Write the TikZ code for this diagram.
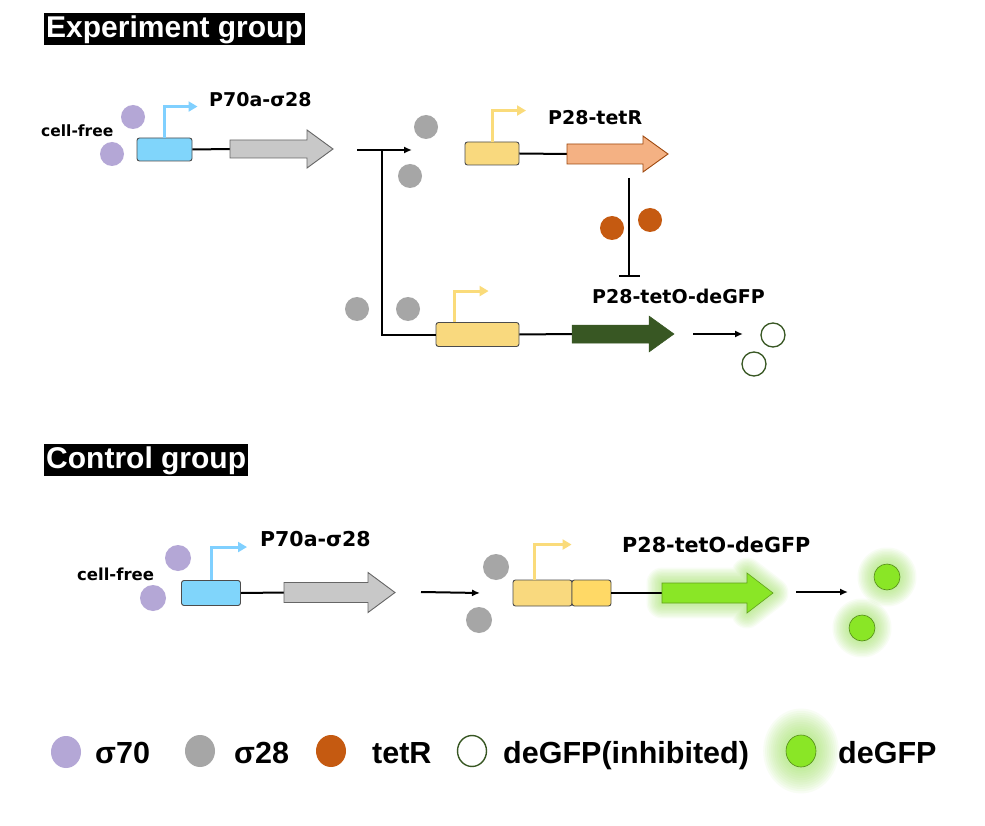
\documentclass[tikz,border=0pt]{standalone}
\usepackage{fontspec}
\setmainfont{Liberation Sans}
\newfontfamily\labelfont{DejaVu Sans}
\usetikzlibrary{arrows.meta,shapes.geometric}

\definecolor{sigA}{HTML}{B4A7D6}
\definecolor{sigB}{HTML}{A6A6A6}
\definecolor{tetr}{HTML}{C55A11}
\definecolor{dkgreen}{HTML}{385723}
\definecolor{ltgreen}{HTML}{8AE626}
\definecolor{glowgreen}{HTML}{9BE35A}
\definecolor{proBlue}{HTML}{80D5FB}
\definecolor{proBlueArr}{HTML}{80D0FF}
\definecolor{proYel}{HTML}{F9D97E}
\definecolor{proYelB}{HTML}{FFD966}
\definecolor{proYelArr}{HTML}{FADB7A}
\definecolor{geneGray}{HTML}{C8C8C8}
\definecolor{geneOrange}{HTML}{F4B183}

% gene arrow: style, start coordinate, body length, head length, half body, half head
\newcommand\genearrow[6]{\draw[#1] (#2) -- ++(0,-#5) -- ++(#3,0) -- ++(0,{#5-#6}) -- ++(#4,#6) -- ++(-#4,#6) -- ++(0,{#5-#6}) -- ++(-#3,0) -- cycle;}

\tikzset{
  mol/.style={circle, inner sep=0, minimum size=24pt},
  molbig/.style={circle, inner sep=0, minimum size=26pt},
  probox/.style={draw=black!70, line width=0.9pt, rounded corners=2.5pt, inner sep=0},
  promo/.style={line width=3pt, draw=#1, -{Triangle[length=9pt,width=10pt,fill=#1]}},
  conn/.style={line width=2pt, -{Latex[length=8pt,width=7pt]}},
  wire/.style={line width=2pt},
  title/.style={fill=black, text=white, inner xsep=2pt, inner ysep=0,
    font=\fontsize{30}{30}\selectfont\bfseries, text height=23pt, text depth=6pt,
    minimum height=32pt, anchor=west},
  lbl/.style={inner sep=0, anchor=base west},
  leg/.style={inner sep=0, anchor=base west, font=\fontsize{30.5}{32}\selectfont\bfseries},
  legdot/.style={ellipse, inner sep=0},
  glowline/.style={draw=glowgreen, draw opacity=0.065, line join=round},
  glowfill/.style={fill=glowgreen, fill opacity=0.065},
}

\begin{document}
\begin{tikzpicture}[x=1pt, y=-1pt]
\useasboundingbox (0,0) rectangle (985,826);
\fill[white] (0,0) rectangle (985,826);

%% ---------- Experiment group ----------
\node[title] (t1) at (44,29) {Experiment group};

\node[lbl, font=\labelfont\fontsize{15.5}{16}\selectfont\bfseries] (cf1) at (41,137) {cell-free};
\node[mol, fill=sigA] (m1) at (133,117) {};
\node[mol, fill=sigA] (m2) at (112,154) {};

\node[probox, fill=proBlue, minimum width=55pt, minimum height=23pt] (pA) at (164.5,149.5) {};
\draw[promo=proBlueArr] (pA.north) |- ++(33,-31);
\node[lbl, font=\labelfont\fontsize{19}{20}\selectfont\bfseries] (lA) at (209,107) {P70a-σ28};
\coordinate (gA) at (230,149);
\draw[wire] (pA.east) -- (gA);
\genearrow{fill=geneGray, draw=black!60, line width=0.9pt}{gA}{77}{26}{9}{19}

% sigma28 released
\coordinate (j1) at (357,150);
\coordinate (j2) at (412,150);
\coordinate (jv) at (382,150);
\draw[conn] (j1) -- (j2);

\node[mol, fill=sigB] (s1) at (426,127) {};
\node[mol, fill=sigB] (s2) at (410,176) {};

\node[probox, fill=proYel, minimum width=54pt, minimum height=23pt] (pB) at (492,153.5) {};
\draw[promo=proYelArr] (pB.north) |- ++(34,-31);
\node[lbl, font=\labelfont\fontsize{19}{20}\selectfont\bfseries] (lB) at (548,125) {P28-tetR};
\coordinate (gB) at (567,154);
\draw[wire] (pB.east) -- (gB);
\genearrow{fill=geneOrange, draw=tetr!80!black, line width=0.9pt}{gB}{76}{25}{10}{18}

% repression by tetR
\coordinate (inh1) at (629,178);
\coordinate (inh2) at (629,277);
\draw[wire, -{Bar[width=21pt, line width=2pt]}] (inh1) -- (inh2);
\node[mol, fill=tetr] (r1) at (612,228) {};
\node[mol, fill=tetr] (r2) at (650,220) {};

% reporter
\node[mol, fill=sigB] (s3) at (357,309) {};
\node[mol, fill=sigB] (s4) at (408,309) {};
\node[probox, fill=proYel, minimum width=83pt, minimum height=24pt] (pC) at (477.5,334.5) {};
\draw[wire] (jv) |- (pC.west);
\draw[promo=proYelArr] ([xshift=19pt]pC.north west) |- ++(34,-31);
\node[lbl, font=\labelfont\fontsize{19}{20}\selectfont\bfseries] (lC) at (592,304) {P28-tetO-deGFP};
\coordinate (gC) at (572,334);
\draw[wire] (pC.east) -- (gC);
\genearrow{fill=dkgreen, draw=dkgreen, line width=0.5pt}{gC}{77}{25}{9}{18}

\coordinate (k1) at (693,334);
\coordinate (k2) at (743,334);
\draw[conn] (k1) -- (k2);
\node[mol, draw=dkgreen, line width=1.3pt, fill=white] (o1) at (773,335) {};
\node[mol, draw=dkgreen, line width=1.3pt, fill=white] (o2) at (754,364) {};

%% ---------- Control group ----------
\node[title] (t2) at (44,459.5) {Control group};

\node[lbl, font=\labelfont\fontsize{16.5}{17}\selectfont\bfseries] (cf2) at (77,580) {cell-free};
\node[molbig, fill=sigA] (m3) at (178,558) {};
\node[molbig, fill=sigA] (m4) at (153,598) {};

\node[probox, fill=proBlue, minimum width=59pt, minimum height=25pt] (pD) at (211,593) {};
\draw[promo=proBlueArr] (pD.north) |- ++(36,-33);
\node[lbl, font=\labelfont\fontsize{20.5}{21}\selectfont\bfseries] (lD) at (260,546) {P70a-σ28};
\coordinate (gD) at (284,592.5);
\draw[wire] (pD.east) -- (gD);
\genearrow{fill=geneGray, draw=black!60, line width=0.9pt}{gD}{84}{27}{10}{20}

\coordinate (c1) at (421,592);
\coordinate (c2) at (480,593);
\draw[conn] (c1) -- (c2);
\node[molbig, fill=sigB] (s5) at (496,567) {};
\node[molbig, fill=sigB] (s6) at (479,620) {};

\node[probox, fill=proYel, minimum width=59pt, minimum height=26pt] (pE) at (542.5,593) {};
\node[probox, fill=proYelB, minimum width=39pt, minimum height=26pt] (pF) at (591.5,593) {};
\draw[promo=proYelArr] ([xshift=22pt]pE.north west) |- ++(37,-35);
\node[lbl, font=\labelfont\fontsize{20.7}{21}\selectfont\bfseries] (lE) at (622,552) {P28-tetO-deGFP};
\coordinate (gE) at (662,593);
% soft halo round the expressed reporter
\foreach \i in {1,...,11} {\genearrow{glowline, line width=2.8*\i pt}{gE}{85}{26}{10}{20}}
\draw[wire] (pF.east) -- (gE);
\genearrow{fill=ltgreen, draw=ltgreen!70!black, line width=0.6pt}{gE}{85}{26}{10}{20}

\coordinate (c3) at (796,592);
\coordinate (c4) at (848,592);
\draw[conn] (c3) -- (c4);
\foreach \p in {(887,577),(862,628)} {
  \foreach \i in {1,...,11} {\fill[glowfill] \p circle[radius=13+1.5*\i];}
}
\node[molbig, fill=ltgreen, draw=ltgreen!60!black, line width=0.6pt] (g1) at (887,577) {};
\node[molbig, fill=ltgreen, draw=ltgreen!60!black, line width=0.6pt] (g2) at (862,628) {};

%% ---------- Legend ----------
\node[legdot, fill=sigA, minimum width=30pt, minimum height=32pt] (d1) at (66,752) {};
\node[leg] (e1) at (95,763) {σ70};
\node[legdot, fill=sigB, minimum width=30pt, minimum height=32pt] (d2) at (200,751) {};
\node[leg] (e2) at (234,763) {σ28};
\node[legdot, fill=tetr, minimum width=30pt, minimum height=32pt] (d3) at (331,751) {};
\node[leg] (e3) at (372,763) {tetR};
\node[legdot, draw=dkgreen, line width=1.4pt, minimum width=29pt, minimum height=31pt] (d4) at (472,751) {};
\node[leg] (e4) at (503,763) {deGFP(inhibited)};
\foreach \i in {1,...,12} {\fill[glowfill] (801,751) ellipse[x radius=15+1.9*\i, y radius=16+2.2*\i];}
\node[legdot, fill=ltgreen, draw=ltgreen!60!black, line width=0.6pt, minimum width=30pt, minimum height=32pt] (d5) at (801,751) {};
\node[leg] (e5) at (838,763) {deGFP};
\end{tikzpicture}
\end{document}
